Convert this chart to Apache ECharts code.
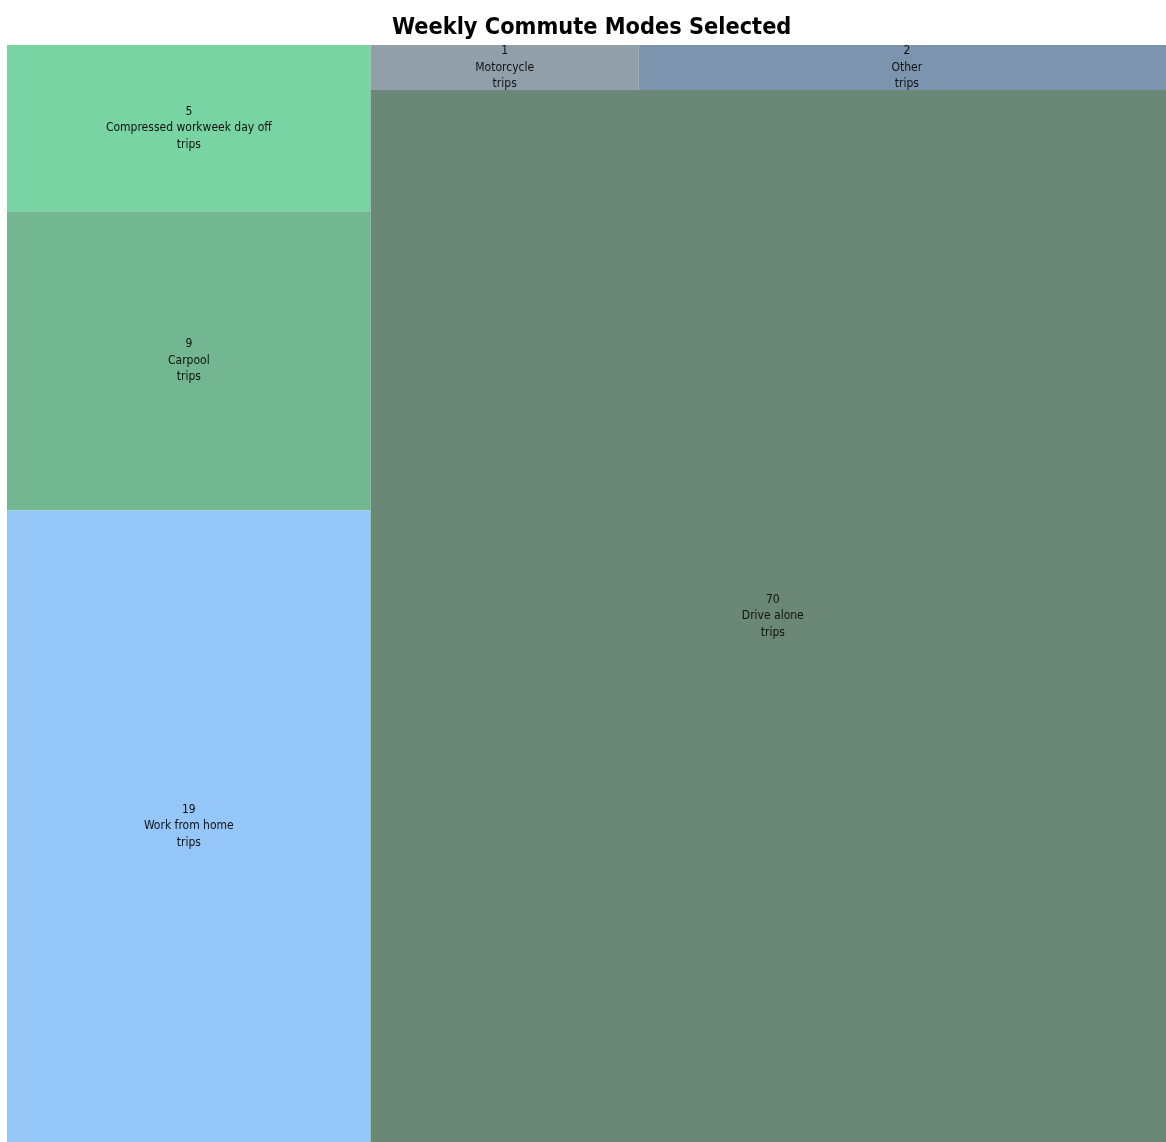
<!DOCTYPE html>
<html>
<head>
<meta charset="utf-8">
<script src="https://cdn.jsdelivr.net/npm/echarts@6/dist/echarts.min.js"></script>
<style>
html,body{margin:0;padding:0;background:#fff;}
#chart{width:1166px;height:1142px;}
</style>
</head>
<body>
<div id="chart"></div>
<script>
// Data
var groupLeftNames = ['Compressed workweek day off', 'Carpool', 'Work from home'];
var groupLeftValues = [5, 9, 19];
var groupLeftColors = ['#79d4a3', '#73b792', '#94c7f8'];
var groupRightNames = ['Motorcycle', 'Other', 'Drive alone'];
var groupRightValues = [1, 2, 70];
var groupRightColors = ['#919fab', '#7c94ae', '#6b8877'];
var unitLabel = 'trips';

function buildChildren(names, values, colors) {
  return names.map(function (n, i) {
    return { name: n, value: values[i], itemStyle: { color: colors[i] } };
  });
}
function sum(a) { return a.reduce(function (s, v) { return s + v; }, 0); }

var chart = echarts.init(document.getElementById('chart'));
chart.setOption({
  animation: false,
  title: {
    text: 'Weekly Commute Modes Selected',
    left: 387,
    top: 11,
    textStyle: { fontFamily: 'DejaVu Sans Condensed', fontWeight: 'bold', fontSize: 23.3, color: '#000' }
  },
  series: [{
    type: 'treemap',
    left: 7,
    top: 45,
    width: 1168,
    height: 1097,
    sort: false,
    roam: false,
    nodeClick: false,
    breadcrumb: { show: false },
    squareRatio: 1,
    itemStyle: { borderWidth: 0, gapWidth: 0 },
    upperLabel: { show: false },
    label: {
      show: true,
      position: 'inside',
      align: 'center',
      verticalAlign: 'middle',
      padding: [-4, 0],
      fontFamily: 'DejaVu Sans Condensed',
      fontSize: 12,
      lineHeight: 16.5,
      color: '#111',
      overflow: 'none',
      formatter: function (p) { return p.value + '\n' + p.name + '\n' + unitLabel; }
    },
    levels: [
      { itemStyle: { borderWidth: 0, gapWidth: 0 } },
      { itemStyle: { borderWidth: 0, gapWidth: 0 } }
    ],
    data: [
      { name: 'A', value: sum(groupLeftValues), children: buildChildren(groupLeftNames, groupLeftValues, groupLeftColors) },
      { name: 'B', value: sum(groupRightValues), children: buildChildren(groupRightNames, groupRightValues, groupRightColors) }
    ]
  }]
});
</script>
</body>
</html>
